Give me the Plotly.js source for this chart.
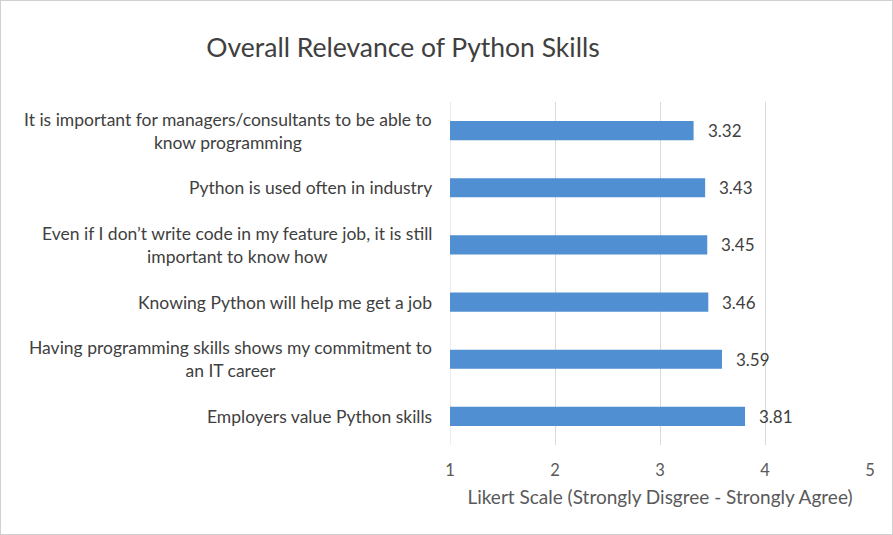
<!DOCTYPE html>
<html>
<head>
<meta charset="utf-8">
<script src="https://cdn.plot.ly/plotly-3.0.1.min.js"></script>
<style>
html,body{margin:0;padding:0;background:#fff;}
#chart{width:891px;height:533px;border:1px solid #d0d0d0;}
</style>
</head>
<body>
<div id="chart"></div>
<script>
const categories = [
  "It is important for managers/consultants to be able to<br>know programming",
  "Python is used often in industry",
  "Even if I don’t write code in my feature job, it is still<br>important to know how",
  "Knowing Python will help me get a job",
  "Having programming skills shows my commitment to<br>an IT career",
  "Employers value Python skills"
];
const values = [3.32, 3.43, 3.45, 3.46, 3.59, 3.81];
const xTicks = [1, 2, 3, 4, 5];
const chartTitle = "Overall Relevance of Python Skills";
const xTitle = "Likert Scale (Strongly Disgree - Strongly Agree)";

const FONT = "Lato, 'Open Sans', sans-serif";

const trace = {
  type: "bar",
  orientation: "h",
  x: values,
  y: categories,
  marker: {color: "#4f8fd2"},
  hoverinfo: "skip"
};

const catAnnotations = categories.map(c => ({
  text: c,
  x: 0, xref: "paper", xanchor: "right", xshift: -16,
  y: c, yref: "y", yanchor: "middle",
  align: "center",
  showarrow: false,
  font: {family: FONT, size: 17.5, color: "#404040"}
}));

const valueAnnotations = values.map((v, i) => ({
  text: v.toFixed(2),
  x: v, xref: "x", xanchor: "left", xshift: 12,
  y: categories[i], yref: "y", yanchor: "middle",
  showarrow: false,
  font: {family: FONT, size: 17, color: "#404040"}
}));

const layout = {
  width: 891, height: 533,
  margin: {l: 449, r: 22, t: 101, b: 89, pad: 0},
  paper_bgcolor: "#ffffff",
  plot_bgcolor: "#ffffff",
  showlegend: false,
  bargap: 0.665,
  title: {
    text: chartTitle,
    x: 402 / 891, xanchor: "center",
    y: 1 - 47 / 533, yanchor: "middle",
    font: {family: FONT, size: 26.5, color: "#404040"}
  },
  xaxis: {
    range: [1, 5],
    tickvals: xTicks,
    ticktext: xTicks.map(String),
    showgrid: true,
    gridcolor: "#d9d9d9",
    gridwidth: 1,
    zeroline: false,
    showline: false,
    ticks: "",
    ticklabelstandoff: 13,
    tickfont: {family: FONT, size: 16.5, color: "#595959"},
    title: {
      text: xTitle,
      standoff: 12,
      font: {family: FONT, size: 19, color: "#595959"}
    },
    fixedrange: true
  },
  yaxis: {
    autorange: "reversed",
    showticklabels: false,
    showgrid: false,
    zeroline: false,
    showline: false,
    ticks: "",
    fixedrange: true
  },
  shapes: [{
    type: "line", layer: "below",
    xref: "x", x0: xTicks[0], x1: xTicks[0],
    yref: "paper", y0: 0, y1: 1,
    line: {color: "#d9d9d9", width: 1}
  }],
  annotations: catAnnotations.concat(valueAnnotations)
};

Plotly.newPlot("chart", [trace], layout, {displayModeBar: false, staticPlot: true});
</script>
</body>
</html>
